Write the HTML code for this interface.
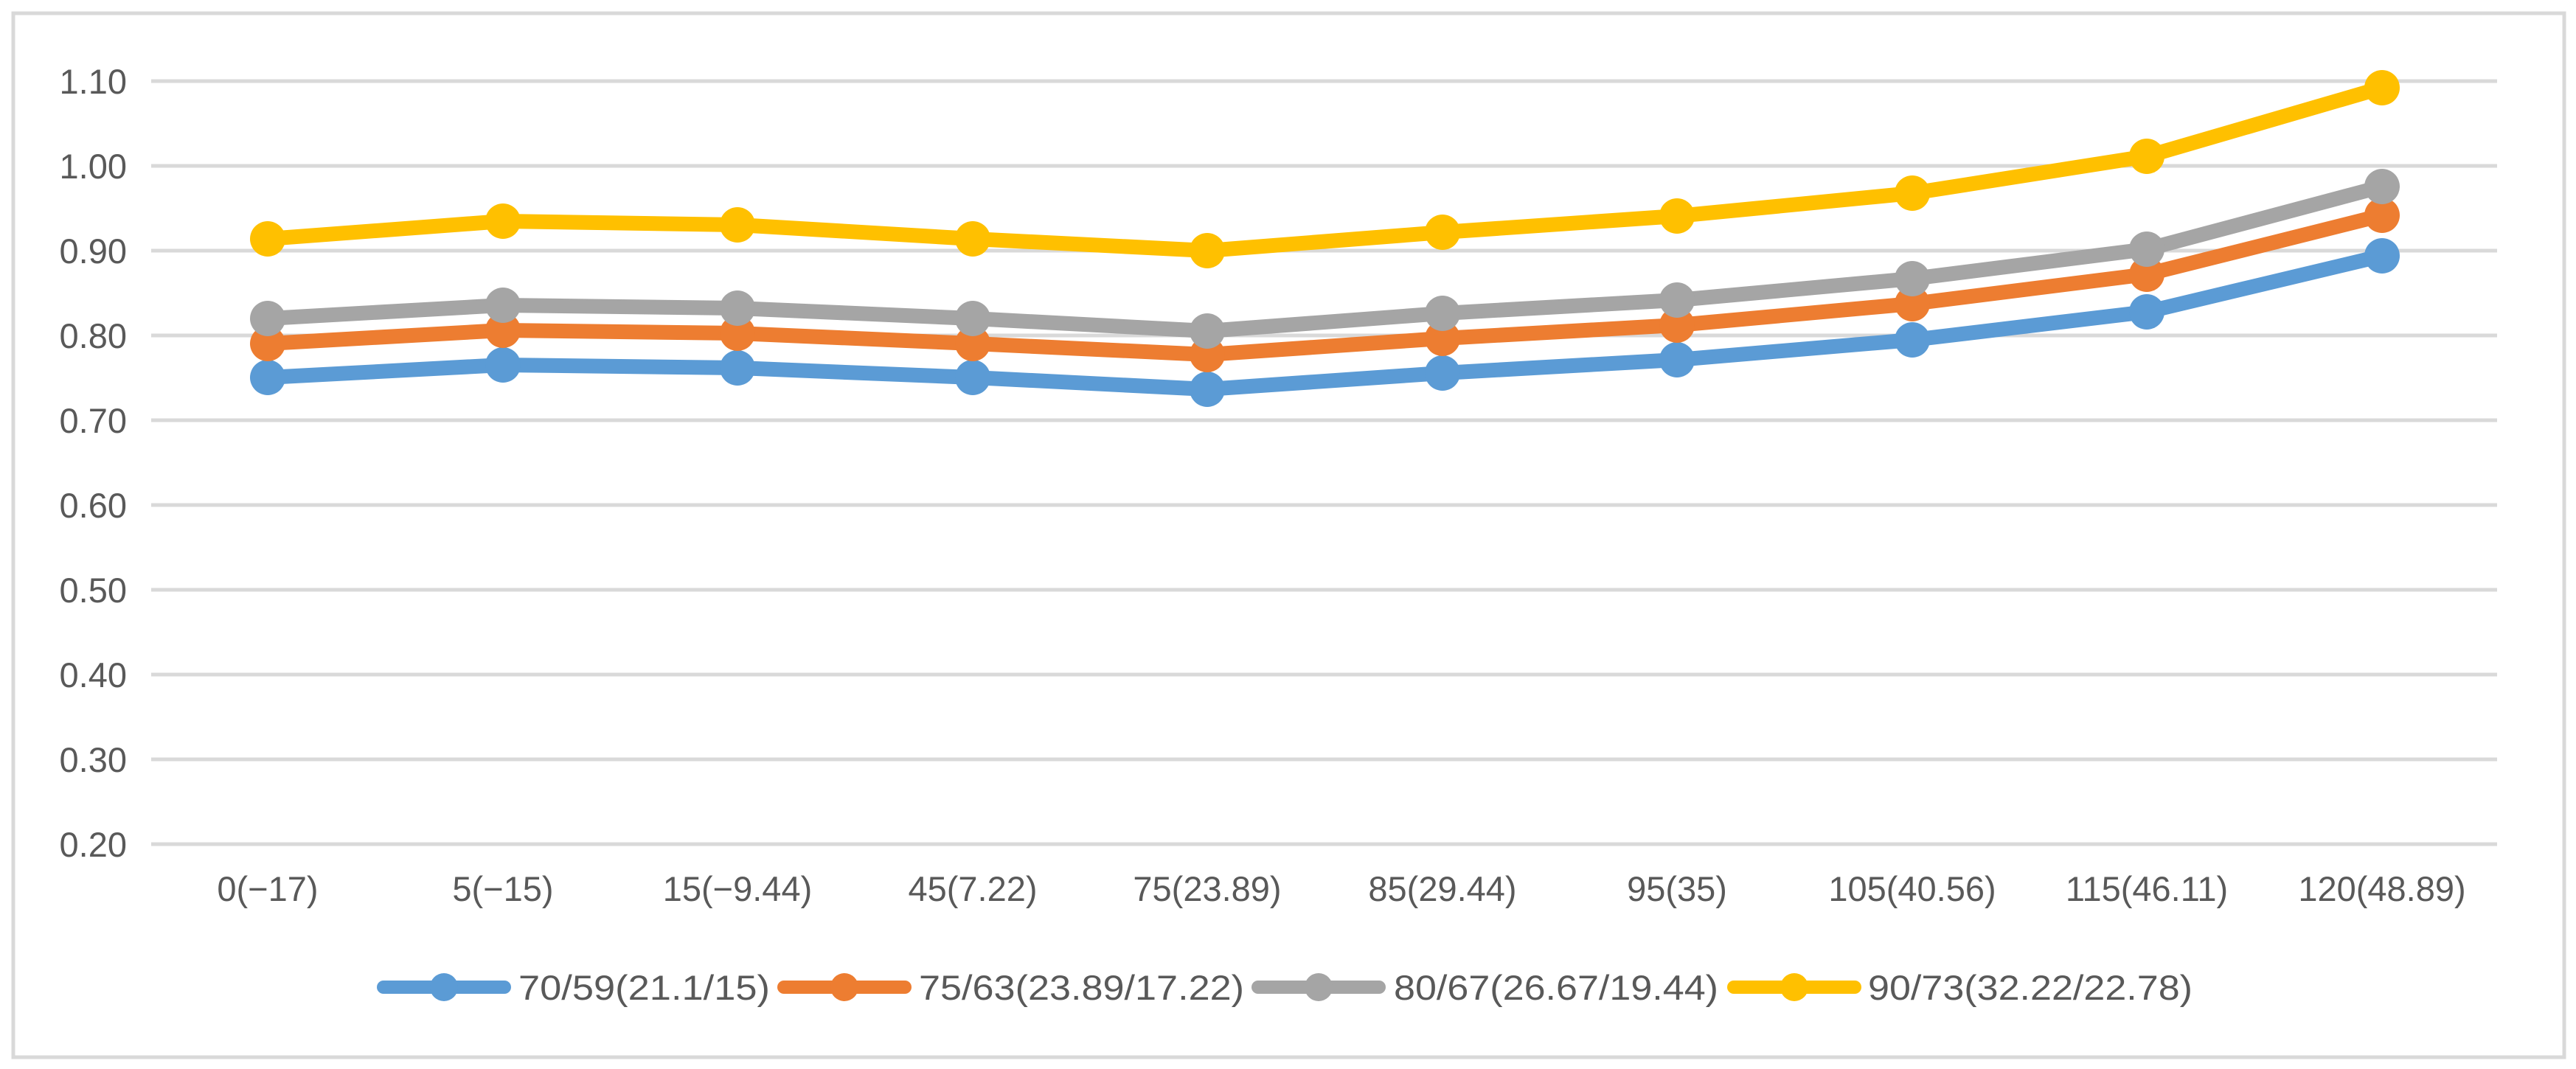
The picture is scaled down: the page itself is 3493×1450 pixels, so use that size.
<!DOCTYPE html>
<html><head><meta charset="utf-8"><style>
html,body{margin:0;padding:0;background:#fff;}
svg{display:block;}
text{font-family:"Liberation Sans",sans-serif;fill:#595959;font-size:47px;}
</style></head><body>
<svg width="3493" height="1450" viewBox="0 0 3493 1450" xmlns="http://www.w3.org/2000/svg">
<rect x="18" y="18" width="3459" height="1416" fill="#fff" stroke="#d9d9d9" stroke-width="5"/>
<g stroke="#d9d9d9" stroke-width="5">
<line x1="205" x2="3386" y1="110" y2="110"/><line x1="205" x2="3386" y1="225" y2="225"/>
<line x1="205" x2="3386" y1="340" y2="340"/><line x1="205" x2="3386" y1="455" y2="455"/>
<line x1="205" x2="3386" y1="570" y2="570"/><line x1="205" x2="3386" y1="685" y2="685"/>
<line x1="205" x2="3386" y1="800" y2="800"/><line x1="205" x2="3386" y1="915" y2="915"/>
<line x1="205" x2="3386" y1="1030" y2="1030"/><line x1="205" x2="3386" y1="1145" y2="1145"/>
</g>
<g text-anchor="end">
<text x="172" y="127">1.10</text><text x="172" y="242">1.00</text><text x="172" y="357">0.90</text>
<text x="172" y="472">0.80</text><text x="172" y="587">0.70</text><text x="172" y="702">0.60</text>
<text x="172" y="817">0.50</text><text x="172" y="932">0.40</text><text x="172" y="1047">0.30</text>
<text x="172" y="1162">0.20</text>
</g>
<g text-anchor="middle">
<text x="363" y="1222">0(−17)</text><text x="682" y="1222">5(−15)</text>
<text x="1000" y="1222">15(−9.44)</text><text x="1319" y="1222">45(7.22)</text>
<text x="1637" y="1222">75(23.89)</text><text x="1956" y="1222">85(29.44)</text>
<text x="2274" y="1222">95(35)</text><text x="2593" y="1222">105(40.56)</text>
<text x="2911" y="1222">115(46.11)</text><text x="3230" y="1222">120(48.89)</text>
</g>
<g fill="none" stroke-width="20" stroke-linejoin="round">
<polyline stroke="#5b9bd5" points="363,512 682,495 1000,499 1319,512 1637,528 1956,506 2274,488 2593,461 2911,423 3230,347"/>
<polyline stroke="#ed7d31" points="363,466 682,448 1000,452 1319,466 1637,481 1956,459 2274,441 2593,412 2911,372 3230,292"/>
<polyline stroke="#a5a5a5" points="363,432 682,414 1000,418 1319,432 1637,449 1956,425 2274,407 2593,378 2911,338 3230,253"/>
<polyline stroke="#ffc000" points="363,324 682,300 1000,305 1319,324 1637,340 1956,315 2274,293 2593,262 2911,212 3230,119"/>
</g>
<g fill="#5b9bd5"><circle cx="363" cy="512" r="24"/><circle cx="682" cy="495" r="24"/><circle cx="1000" cy="499" r="24"/><circle cx="1319" cy="512" r="24"/><circle cx="1637" cy="528" r="24"/><circle cx="1956" cy="506" r="24"/><circle cx="2274" cy="488" r="24"/><circle cx="2593" cy="461" r="24"/><circle cx="2911" cy="423" r="24"/><circle cx="3230" cy="347" r="24"/></g>
<g fill="#ed7d31"><circle cx="363" cy="466" r="24"/><circle cx="682" cy="448" r="24"/><circle cx="1000" cy="452" r="24"/><circle cx="1319" cy="466" r="24"/><circle cx="1637" cy="481" r="24"/><circle cx="1956" cy="459" r="24"/><circle cx="2274" cy="441" r="24"/><circle cx="2593" cy="412" r="24"/><circle cx="2911" cy="372" r="24"/><circle cx="3230" cy="292" r="24"/></g>
<g fill="#a5a5a5"><circle cx="363" cy="432" r="24"/><circle cx="682" cy="414" r="24"/><circle cx="1000" cy="418" r="24"/><circle cx="1319" cy="432" r="24"/><circle cx="1637" cy="449" r="24"/><circle cx="1956" cy="425" r="24"/><circle cx="2274" cy="407" r="24"/><circle cx="2593" cy="378" r="24"/><circle cx="2911" cy="338" r="24"/><circle cx="3230" cy="253" r="24"/></g>
<g fill="#ffc000"><circle cx="363" cy="324" r="24"/><circle cx="682" cy="300" r="24"/><circle cx="1000" cy="305" r="24"/><circle cx="1319" cy="324" r="24"/><circle cx="1637" cy="340" r="24"/><circle cx="1956" cy="315" r="24"/><circle cx="2274" cy="293" r="24"/><circle cx="2593" cy="262" r="24"/><circle cx="2911" cy="212" r="24"/><circle cx="3230" cy="119" r="24"/></g>
<g stroke-width="18" stroke-linecap="round">
<line x1="520" x2="684" y1="1339" y2="1339" stroke="#5b9bd5"/>
<line x1="1063" x2="1227" y1="1339" y2="1339" stroke="#ed7d31"/>
<line x1="1706" x2="1870" y1="1339" y2="1339" stroke="#a5a5a5"/>
<line x1="2351" x2="2515" y1="1339" y2="1339" stroke="#ffc000"/>
</g>
<circle cx="602" cy="1339" r="19" fill="#5b9bd5"/>
<circle cx="1145" cy="1339" r="19" fill="#ed7d31"/>
<circle cx="1788" cy="1339" r="19" fill="#a5a5a5"/>
<circle cx="2433" cy="1339" r="19" fill="#ffc000"/>
<text x="703" y="1356" textLength="341" lengthAdjust="spacingAndGlyphs">70/59(21.1/15)</text>
<text x="1246" y="1356" textLength="441" lengthAdjust="spacingAndGlyphs">75/63(23.89/17.22)</text>
<text x="1890" y="1356" textLength="440" lengthAdjust="spacingAndGlyphs">80/67(26.67/19.44)</text>
<text x="2533" y="1356" textLength="440" lengthAdjust="spacingAndGlyphs">90/73(32.22/22.78)</text>
</svg>
</body></html>
